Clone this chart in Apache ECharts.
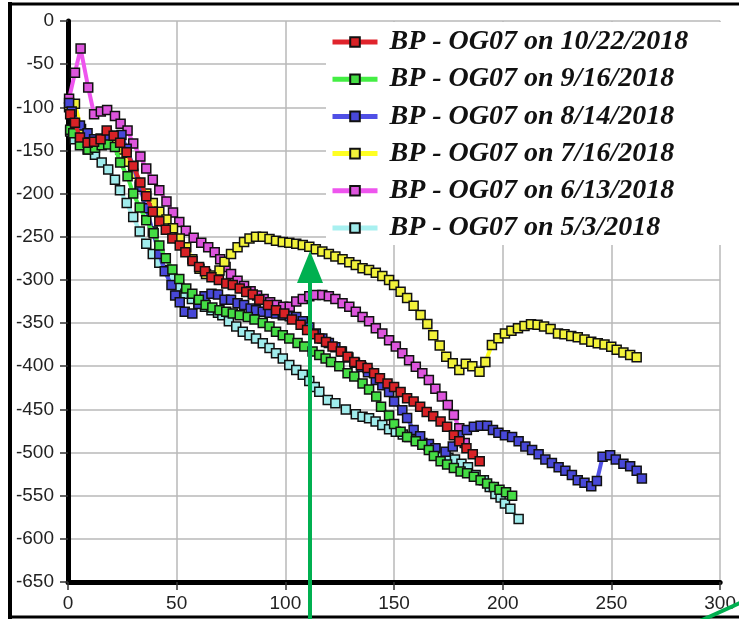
<!DOCTYPE html>
<html>
<head>
<meta charset="utf-8">
<script src="https://cdn.jsdelivr.net/npm/echarts@6/dist/echarts.min.js"></script>
<style>
html,body{margin:0;padding:0;background:#fff;}
#chart{width:739px;height:619px;}
</style>
</head>
<body>
<div id="chart"></div>
<script>
// ---- data ----
const seriesNames = [
  'BP - OG07 on 10/22/2018',
  'BP - OG07 on 9/16/2018',
  'BP - OG07 on 8/14/2018',
  'BP - OG07 on 7/16/2018',
  'BP - OG07 on 6/13/2018',
  'BP - OG07 on 5/3/2018'
];
const xTicks = [0, 50, 100, 150, 200, 250, 300];
const yTicks = [0, -50, -100, -150, -200, -250, -300, -350, -400, -450, -500, -550, -600, -650];

const d_10_22 = [[1,-108],[3.2,-118],[5.5,-135],[9,-141],[12,-140],[15,-137],[17.8,-127],[21,-133],[24,-141],[27,-152],[30,-168],[33.3,-187],[36,-203],[39,-221],[42,-232],[45,-242],[48,-252],[51.4,-260],[54,-268],[57.3,-278],[60.3,-285],[63,-290],[66,-297],[69.4,-300],[72.8,-304],[75.8,-306],[79,-310],[82,-314],[85,-317],[88,-323],[92,-329],[95.7,-335],[99.5,-339],[103,-346],[107,-352],[110,-358],[113,-363],[115.6,-368],[118.7,-372],[121.7,-377],[125.5,-383],[128.6,-389],[131.7,-395],[134.7,-399],[137.8,-402],[140.8,-408],[143.5,-414],[147,-420],[150,-424],[153,-430],[156,-437],[159,-441],[162,-447],[165,-453],[168,-458],[171.4,-464],[174.4,-470],[177.5,-480],[180,-487],[183.3,-495],[186.2,-502],[189.4,-510]];

const d_9_16 = [[1,-126],[2.4,-130],[5.5,-144],[9.3,-149],[12.4,-147],[15.5,-144],[18.5,-143],[21.6,-146],[24,-164],[27.4,-180],[30,-200],[33,-216],[36,-231],[39.4,-246],[42,-260],[45,-275],[48,-288],[51.2,-299],[54.4,-310],[57.2,-316],[60.2,-323],[63.3,-329],[66.4,-332],[69.7,-335],[72.8,-337],[75.8,-339],[79,-341],[82.7,-343],[85.8,-346],[89.6,-350],[92.7,-354],[95.7,-360],[98.8,-364],[101.8,-368],[105.6,-373],[108.7,-377],[112.5,-383],[115.6,-387],[118.5,-391],[121,-395],[124.8,-400],[128.6,-408],[131.7,-412],[135.5,-420],[138.5,-427],[141.8,-435],[144,-447],[147.7,-457],[150,-467],[153,-476],[156,-482],[160,-487],[163,-491],[166,-497],[168.3,-504],[171.4,-510],[174.4,-514],[177.5,-518],[180.6,-522],[183.6,-524],[186.7,-528],[189.8,-532],[192.8,-536],[195.9,-540],[198.5,-543],[201.5,-546],[204.3,-550]];

const d_8_14 = [[0.5,-95],[1.7,-105],[5.5,-121],[9,-130],[12,-137],[15,-139],[18,-136],[21.5,-133],[24.6,-132],[27,-148],[30,-168],[33,-192],[36,-217],[39,-244],[42,-270],[44.5,-290],[47.6,-306],[49.3,-318],[51.4,-326],[53.7,-337],[57.2,-339],[60,-328],[62.8,-319],[66,-316],[69,-317],[72,-323],[75,-323],[78,-327],[81,-329],[84,-333],[86.5,-335],[89.6,-337],[92.7,-338],[95.7,-339],[98.8,-341],[102,-342],[105,-343],[108,-348],[111,-355],[114,-362],[117,-368],[120,-373],[123,-378],[126,-383],[129,-390],[132,-396],[135,-401],[138,-407],[141.6,-416],[144.6,-422],[147.7,-430],[150,-441],[153.8,-451],[156,-460],[159,-474],[162,-481],[166,-490],[169,-495],[173.7,-499],[177,-493],[180,-480],[183.5,-474],[186.7,-470],[189.8,-469],[192.8,-469],[195.5,-474],[198,-477],[201,-480],[204.3,-482],[207.3,-487],[210.4,-493],[213.5,-497],[216.5,-502],[219.6,-508],[222.6,-512],[225.7,-517],[228.8,-521],[231.8,-526],[234.5,-532],[237.6,-535],[240.7,-539],[243.3,-533],[245.9,-505],[249.4,-503],[252,-508],[255.5,-513],[258.6,-516],[261.6,-521],[264,-530]];

const d_7_16 = [[0.5,-100],[3.2,-96],[6,-125],[9,-137],[12,-139],[15,-136],[18,-132],[21.5,-137],[24,-149],[27,-163],[30,-177],[33,-190],[36,-200],[39,-211],[42,-221],[45.3,-230],[48.3,-240],[51.4,-252],[54.4,-262],[57.2,-276],[60.5,-287],[63.5,-293],[66.5,-295],[69.7,-289],[72,-279],[75,-270],[78,-262],[81,-256],[83.5,-252],[86.5,-250],[89.6,-250],[92.7,-252.6],[95.7,-254.5],[98.8,-256],[101.8,-257],[105,-258],[108,-259.6],[111,-261.5],[114,-264.5],[117,-267],[120,-270],[123,-273],[126.3,-276],[129.4,-279.6],[132.4,-282.7],[135.5,-286.6],[138.5,-288.5],[141.6,-291.6],[144.6,-295.5],[147.7,-300],[150,-306],[153,-313.7],[156,-321],[159,-330],[162.2,-340.7],[165.3,-351],[168,-364],[171,-376],[174,-389],[177,-396.6],[180,-404.4],[183,-397],[186,-400],[189.3,-406.4],[192,-395],[195,-375.4],[198,-367.7],[201,-362],[204,-359],[207,-356],[210,-353.4],[213,-351.5],[216,-352],[219,-354],[222,-357],[225.4,-362],[228.4,-363],[231.5,-365],[234.5,-366.5],[237.6,-369],[240.7,-371.6],[243.7,-373.5],[246.8,-374.7],[249.9,-377.4],[252.4,-381],[255.5,-384],[258.6,-387],[261.6,-389.7]];

const d_6_13 = [[0.5,-90],[3.2,-60],[5.8,-32],[9.3,-77],[12,-108],[15.1,-105],[18,-103],[21.6,-110],[24.2,-119],[27.4,-127],[30,-142],[33.3,-157],[36,-171],[39,-184],[42,-196],[45.3,-209],[48.3,-222],[51.2,-233],[54.2,-243],[57.8,-251],[61.3,-257],[64.5,-262],[67.5,-268],[70,-276],[72.5,-285],[75,-293],[78,-301],[81,-307],[84,-313],[87,-318],[90,-322],[93,-326],[96,-329],[99,-331],[102,-331],[105,-325],[108,-322],[111,-319],[114,-317.5],[117,-317.5],[120,-319],[123,-322],[126.3,-327],[129.4,-331],[132.4,-337],[135.5,-343],[138.5,-348],[141.6,-356],[144.6,-362],[147.7,-370],[150.8,-377],[153.8,-385],[156.9,-393],[160,-400.5],[163,-408],[166,-416],[169,-426],[172,-435],[174.7,-445],[177.5,-456.5],[180,-472],[182.5,-489]];

const d_5_3 = [[1,-128],[3,-137],[6,-143],[9,-149],[12.4,-155],[15.5,-164],[18.5,-172],[21.6,-184],[23.9,-196],[27,-211],[30,-227],[33,-244],[36,-258],[39,-270],[42,-280],[45.3,-288.5],[48,-298],[51,-308],[54,-316],[57,-322],[60,-327],[63,-331],[66,-335],[69,-338],[71,-341],[74,-348],[77.4,-354],[80.4,-360],[83.5,-364],[86.5,-368],[89.6,-373.5],[92.7,-379],[95.7,-385],[98.8,-391],[101.8,-398.6],[105,-404.4],[108,-410],[111,-417],[113.5,-424],[115.6,-429.5],[119.5,-439],[123,-443],[127.8,-450],[132.4,-455.5],[135.5,-458.5],[138.5,-460.4],[141.5,-464],[144.6,-468],[147.7,-473],[150.8,-476],[154,-479],[157,-482],[160,-485],[163,-489],[166,-492],[169,-496],[172,-502],[175,-506],[178,-508],[181,-513],[184,-517],[187.5,-526],[191.3,-532],[194,-540],[196.6,-548],[199,-552],[201,-559],[203.5,-565],[207.3,-577]];

const seriesData = [d_10_22, d_9_16, d_8_14, d_7_16, d_6_13, d_5_3];
const lineColors = ['#e0242c', '#44ee44', '#5050e6', '#ffff22', '#ee55ee', '#a8f0f0'];
const markerColors = ['#d82226', '#44dd44', '#4848d8', '#f2f23a', '#dd55dd', '#a0ecec'];

// ---- chart ----
const chart = echarts.init(document.getElementById('chart'), null, {renderer: 'canvas'});

const series = seriesNames.map((name, i) => ({
  name: name,
  type: 'line',
  data: seriesData[i],
  symbol: 'rect',
  symbolSize: 9,
  showAllSymbol: true,
  smooth: false,
  lineStyle: {color: lineColors[i], width: 4},
  itemStyle: {color: markerColors[i], borderColor: '#111', borderWidth: 1.5},
  emphasis: {disabled: true},
  z: 2 + (seriesNames.length - i)
}));

chart.setOption({
  animation: false,
  backgroundColor: '#ffffff',
  grid: {left: 68, top: 21, right: 17, bottom: 37, containLabel: false},
  xAxis: {
    type: 'value',
    min: xTicks[0], max: xTicks[xTicks.length - 1], interval: 50,
    axisLine: {show: true, onZero: false, lineStyle: {color: '#000', width: 5}},
    axisTick: {show: true, length: 8, lineStyle: {color: '#333', width: 1.5}},
    axisLabel: {margin: 12, fontSize: 19, color: '#222', fontFamily: 'Liberation Sans, Arial, sans-serif'},
    splitLine: {show: true, lineStyle: {color: '#b8b8b8', width: 1.5}}
  },
  yAxis: {
    type: 'value',
    min: yTicks[yTicks.length - 1], max: yTicks[0], interval: 50,
    axisLine: {show: true, onZero: false, lineStyle: {color: '#000', width: 5}},
    axisTick: {show: true, length: 8, lineStyle: {color: '#333', width: 1.5}},
    axisLabel: {margin: 14, fontSize: 19, color: '#222', fontFamily: 'Liberation Sans, Arial, sans-serif'},
    splitLine: {show: true, lineStyle: {color: '#b8b8b8', width: 1.5}}
  },
  legend: {
    orient: 'vertical',
    left: 326,
    top: 22,
    padding: [5, 34, 2, 4],
    backgroundColor: '#ffffff',
    itemWidth: 45,
    itemHeight: 12,
    itemGap: 7.2,
    data: seriesNames,
    lineStyle: {width: 5},
    textStyle: {
      fontFamily: 'Liberation Serif, Times New Roman, serif',
      fontStyle: 'italic',
      fontWeight: 'bold',
      fontSize: 28,
      lineHeight: 30,
      color: '#111',
      padding: [0, 0, 0, 7]
    }
  },
  graphic: [
    {type: 'line', shape: {x1: 10, y1: 2, x2: 10, y2: 619}, style: {stroke: '#000', lineWidth: 4}, z: 100},
    {type: 'line', shape: {x1: 8, y1: 4, x2: 739, y2: 4}, style: {stroke: '#000', lineWidth: 3}, z: 100},
    {type: 'line', shape: {x1: 8, y1: 617, x2: 739, y2: 617}, style: {stroke: '#000', lineWidth: 3}, z: 100},
    {type: 'line', shape: {x1: 310, y1: 619, x2: 310, y2: 278}, style: {stroke: '#00b050', lineWidth: 4}, z: 100},
    {type: 'polygon', shape: {points: [[297, 283], [323, 283], [310, 251]]}, style: {fill: '#00b050'}, z: 100},
    {type: 'line', shape: {x1: 700, y1: 621, x2: 742, y2: 602}, style: {stroke: '#00b050', lineWidth: 4}, z: 100}
  ],
  series: series
});
</script>
</body>
</html>
